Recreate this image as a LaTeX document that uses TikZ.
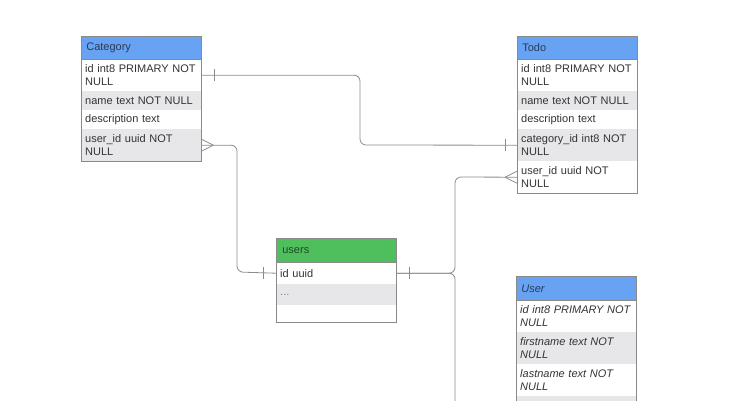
\documentclass[tikz,border=0pt]{standalone}
\usepackage{fontspec}
\setmainfont{Liberation Sans}
\definecolor{bordercol}{HTML}{8A8A8A}
\definecolor{linecol}{HTML}{8C8C8C}
\definecolor{hdrblue}{HTML}{67A3F2}
\definecolor{hdrgreen}{HTML}{4FBF5D}
\definecolor{rowgray}{HTML}{E7E7E9}
\definecolor{txtcol}{HTML}{333333}
\definecolor{bluetxt}{HTML}{2A3B58}
\definecolor{greentxt}{HTML}{1F4A24}
\tikzset{
  cell/.style={draw=none, anchor=north west, minimum width=120pt,
    text width=112pt, inner xsep=4pt, inner ysep=1pt, align=left, text=txtcol,
    font=\fontsize{11}{12.5}\selectfont},
  wcell/.style={cell, fill=white},
  gcell/.style={cell, fill=rowgray},
  bhead/.style={cell, draw=bordercol, line width=0.7pt, fill=hdrblue, text=bluetxt, text width=110pt, inner xsep=5pt},
  ghead/.style={cell, draw=bordercol, line width=0.7pt, fill=hdrgreen, text=greentxt, text width=108pt, inner xsep=6pt},
  frame/.style={draw=bordercol, line width=0.8pt},
  conn/.style={draw=linecol, line width=0.8pt},
  ital/.style={font=\fontsize{11}{12.5}\selectfont\itshape},
}
\begin{document}
\begin{tikzpicture}[x=1pt,y=-1pt]
\useasboundingbox (0,0) rectangle (735,400);
\clip (0,0) rectangle (735,400);
\fill[white] (0,0) rectangle (735,400);

\coordinate (b1) at (360,145);
\coordinate (b2) at (237,272);
\coordinate (b3) at (455,177);
\coordinate (b4) at (455,420);

% Category
\node[bhead, minimum height=23pt] (cat) at (81,36) {Category};
\node[wcell, minimum height=32pt] (cat-id) at (81,59) {id int8 PRIMARY NOT\\NULL};
\node[gcell, minimum height=19pt] (cat-name) at (81,91) {name text NOT NULL};
\node[wcell, minimum height=19pt] (cat-desc) at (81,110) {description text};
\node[gcell, minimum height=32pt] (cat-user) at (81,129) {user\_id uuid NOT\\NULL};
\draw[frame] (cat.north west) rectangle (cat-user.south east);
\draw[frame] (cat.south west) -- (cat.south east);

% Todo
\node[bhead, minimum height=23pt] (todo) at (517,36) {Todo};
\node[wcell, minimum height=32pt] (todo-id) at (517,59) {id int8 PRIMARY NOT\\NULL};
\node[gcell, minimum height=19pt] (todo-name) at (517,91) {name text NOT NULL};
\node[wcell, minimum height=19pt] (todo-desc) at (517,110) {description text};
\node[gcell, minimum height=32pt] (todo-cat) at (517,129) {category\_id int8 NOT\\NULL};
\node[wcell, minimum height=32pt] (todo-user) at (517,161) {user\_id uuid NOT\\NULL};
\draw[frame] (todo.north west) rectangle (todo-user.south east);
\draw[frame] (todo.south west) -- (todo.south east);

% users
\node[ghead, minimum width=119pt, minimum height=24pt] (users) at (276,238) {users};
\node[wcell, minimum width=119pt, minimum height=22pt] (users-id) at (276,262) {id uuid};
\node[gcell, minimum width=119pt, minimum height=21pt, text=gray] (users-more) at (276,284) {...};
\node[wcell, minimum width=119pt, minimum height=17pt] (users-empty) at (276,305) {};
\draw[frame] (users.north west) rectangle (users-empty.south east);
\draw[frame] (users.south west) -- (users.south east);

% User
\node[bhead, ital, minimum height=24pt] (user) at (516,276) {User};
\node[wcell, ital, minimum height=32pt] (user-id) at (516,300) {id int8 PRIMARY NOT\\NULL};
\node[gcell, ital, minimum height=32pt] (user-first) at (516,332) {firstname text NOT\\NULL};
\node[wcell, ital, minimum height=32pt] (user-last) at (516,364) {lastname text NOT\\NULL};
\node[gcell, minimum height=32pt] (user-more) at (516,396) {};
\draw[frame] (user.north west) rectangle (user-more.south east);
\draw[frame] (user.south west) -- (user.south east);

% Category.id -- Todo.category_id
\draw[conn, rounded corners=6pt] (cat-id.east) -| (b1) -- (todo-cat.west);
\draw[conn] ([xshift=13pt,yshift=-6pt]cat-id.east) -- ([xshift=13pt,yshift=6pt]cat-id.east);
\draw[conn] ([xshift=-12pt,yshift=-6pt]todo-cat.west) -- ([xshift=-12pt,yshift=6pt]todo-cat.west);

% Category.user_id -- users.id
\draw[conn, rounded corners=6pt] (cat-user.east) -| (b2) -- (users-id.west);
\draw[conn] ([xshift=12pt]cat-user.east) -- ([yshift=-6pt]cat-user.east);
\draw[conn] ([xshift=12pt]cat-user.east) -- ([yshift=6pt]cat-user.east);
\draw[conn] ([xshift=-13pt,yshift=-6pt]users-id.west) -- ([xshift=-13pt,yshift=6pt]users-id.west);

% users.id -- Todo.user_id and down
\draw[conn, rounded corners=6pt] (users-id.east) -| (b3) -- (todo-user.west);
\draw[conn, rounded corners=6pt] (users-id.east) -| (b4);
\draw[conn] ([xshift=13pt,yshift=-6pt]users-id.east) -- ([xshift=13pt,yshift=6pt]users-id.east);
\draw[conn] ([xshift=-12pt]todo-user.west) -- ([yshift=-6pt]todo-user.west);
\draw[conn] ([xshift=-12pt]todo-user.west) -- ([yshift=6pt]todo-user.west);
\end{tikzpicture}
\end{document}
